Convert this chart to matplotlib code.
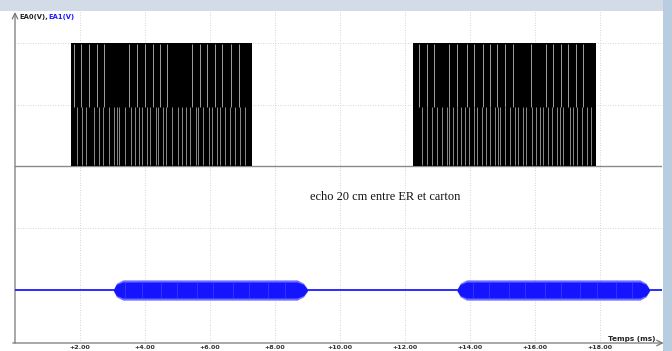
import matplotlib
matplotlib.use("Agg")
import matplotlib.pyplot as plt
from matplotlib.patches import Rectangle

# --- data (times in ms) ---
# EA0: emitted 40 kHz bursts (0 V / 5 V), drawn as solid blocks
ea0_burst_start = [1.71, 12.26]
ea0_burst_end = [7.29, 17.88]
ea0_high = 5.0
ea0_mid = 2.5

# aliasing streaks visible inside the black bursts
ea0_streaks_upper = [1.82, 2.03, 2.28, 2.52, 2.74, 3.51, 3.75, 4.00, 4.25, 4.46,
                     4.68, 5.45, 5.69, 5.91, 6.15, 6.37, 6.65, 6.89,
                     12.44, 12.67, 12.90, 13.36, 13.61, 13.90, 14.13, 14.39,
                     14.62, 14.84, 15.08, 15.31, 15.87, 16.33, 16.56, 16.80,
                     17.02, 17.26, 17.49]
ea0_streaks_lower = [1.90, 2.05, 2.19, 2.44, 2.59, 2.70, 2.89, 3.05, 3.13, 3.21,
                     3.39, 3.57, 3.69, 3.83, 3.90, 4.05, 4.15, 4.34, 4.41, 4.56,
                     4.65, 4.82, 5.03, 5.13, 5.26, 5.39, 5.56, 5.62, 5.79, 5.98,
                     6.05, 6.21, 6.31, 6.46, 6.62, 6.77, 6.92, 7.08,
                     12.51, 12.67, 12.82, 12.99, 13.13, 13.28, 13.36, 13.47,
                     13.59, 13.74, 13.85, 13.98, 14.13, 14.22, 14.36, 14.49,
                     14.62, 14.77, 14.87, 14.94, 15.08, 15.23, 15.38, 15.49,
                     15.62, 15.74, 15.90, 16.03, 16.15, 16.26, 16.41, 16.51,
                     16.67, 16.77, 16.87, 17.08, 17.18, 17.28, 17.44, 17.59, 17.74]

# EA1: received echo, envelope of the 40 kHz signal (V)
ea1_env1_t = [3.02, 3.12, 3.32, 8.68, 8.88, 9.02]
ea1_env1_core = [0.0, 0.045, 0.065, 0.065, 0.045, 0.0]
ea1_env1_peak = [0.0, 0.055, 0.082, 0.082, 0.055, 0.0]
ea1_env2_t = [13.59, 13.70, 13.90, 19.23, 19.42, 19.54]
ea1_env2_core = [0.0, 0.045, 0.065, 0.065, 0.045, 0.0]
ea1_env2_peak = [0.0, 0.055, 0.082, 0.082, 0.055, 0.0]
# lighter streaks seen inside the received bursts
ea1_streaks = [3.4, 3.9, 4.5, 5.0, 5.6, 6.1, 6.7, 7.2, 7.8, 8.3,
               14.1, 14.6, 15.2, 15.7, 16.3, 16.8, 17.4, 17.9, 18.5, 19.0]

x_ticks = [2, 4, 6, 8, 10, 12, 14, 16, 18]
t_max = 19.91

fig = plt.figure(figsize=(6.72, 3.51), dpi=100)
fig.patch.set_facecolor("white")

W, H = 672.0, 351.0
ax = fig.add_axes([15 / W, 8 / H, (662 - 15) / W, (339 - 8) / H])
ax.set_xlim(0, t_max)
# EA0 axis: 2.5 V per division, 0 V at y=167 px, 61.75 px per div
ax.set_ylim(-7.15, 6.25)
ax.set_facecolor("white")
for s in ax.spines.values():
    s.set_visible(False)
ax.set_yticks([])
ax.set_xticks(x_ticks)
ax.set_xticklabels([f"+{v:.2f}" for v in x_ticks], fontsize=4.6,
                   fontweight="bold", color="#333333")
ax.tick_params(axis="x", length=0, pad=1.5)

# dotted grid
for xv in x_ticks:
    ax.axvline(xv, color="#c8c8c8", lw=0.6, ls=(0, (1, 2)), zorder=0)
for yv in [5.0, 2.5, -2.5]:
    ax.axhline(yv, color="#c8c8c8", lw=0.6, ls=(0, (1, 2)), zorder=0)

# EA0 trace
ax.plot([0, t_max], [0, 0], color="#8a8a8a", lw=1.0, zorder=2)
for a, b in zip(ea0_burst_start, ea0_burst_end):
    ax.fill_between([a, b], 0, ea0_high, color="black", lw=0, zorder=3)
ax.vlines(ea0_streaks_upper, ea0_mid - 0.1, ea0_high - 0.05, color="#a0a0a0",
          lw=0.7, zorder=4)
ax.vlines(ea0_streaks_lower, 0.05, ea0_mid - 0.1, color="#8c8c8c", lw=0.7,
          zorder=4)

# EA1 on its own scale: 0.5 V per division, 0 V at y=290 px
ax2 = ax.twinx()
ax2.set_ylim(-0.429, 2.251)
ax2.set_axis_off()
ax2.plot([0, t_max], [0, 0], color="#1a1aff", lw=1.3, zorder=2)
for tt, core, peak in [(ea1_env1_t, ea1_env1_core, ea1_env1_peak),
                       (ea1_env2_t, ea1_env2_core, ea1_env2_peak)]:
    ax2.fill_between(tt, [-v for v in peak], peak, color="#6f6fff", lw=0,
                     zorder=3)
    ax2.fill_between(tt, [-v for v in core], core, color="#1414ff", lw=0,
                     zorder=3)
ax2.vlines(ea1_streaks, -0.075, 0.075, color="#4a4aff", lw=0.4, zorder=4)

# axis lines with arrows
ax.annotate("", xy=(0, 6.25), xytext=(0, -7.15),
            arrowprops=dict(arrowstyle="->", color="#777777", lw=0.9,
                            shrinkA=0, shrinkB=0), annotation_clip=False)
ax.annotate("", xy=(t_max + 0.05, -7.15), xytext=(-0.07, -7.15),
            arrowprops=dict(arrowstyle="->", color="#777777", lw=0.9,
                            shrinkA=0, shrinkB=0), annotation_clip=False)

# labels
fig.text(19 / W, 1 - 17 / H, "EA0(V),", fontsize=4.9, fontweight="bold",
         color="#222222", va="center")
fig.text(48 / W, 1 - 17 / H, "EA1(V)", fontsize=4.9, fontweight="bold",
         color="#1a1aff", va="center")
fig.text(655 / W, 1 - 339 / H, "Temps (ms)", fontsize=5.2, fontweight="bold",
         color="#222222", ha="right", va="center")
fig.text(385 / W, 1 - 197 / H, "echo 20 cm entre ER et carton",
         family="Liberation Serif", fontsize=8.9, color="#111111",
         ha="center", va="center")

# window frame
fig.patches.append(Rectangle((0, 1 - 11 / H), 1, 11 / H, transform=fig.transFigure,
                             facecolor="#d2dbe6", edgecolor="none"))
fig.patches.append(Rectangle((663 / W, 0), 9 / W, 1, transform=fig.transFigure,
                             facecolor="#b9cde0", edgecolor="none"))

fig.savefig("out.png", dpi=100)
